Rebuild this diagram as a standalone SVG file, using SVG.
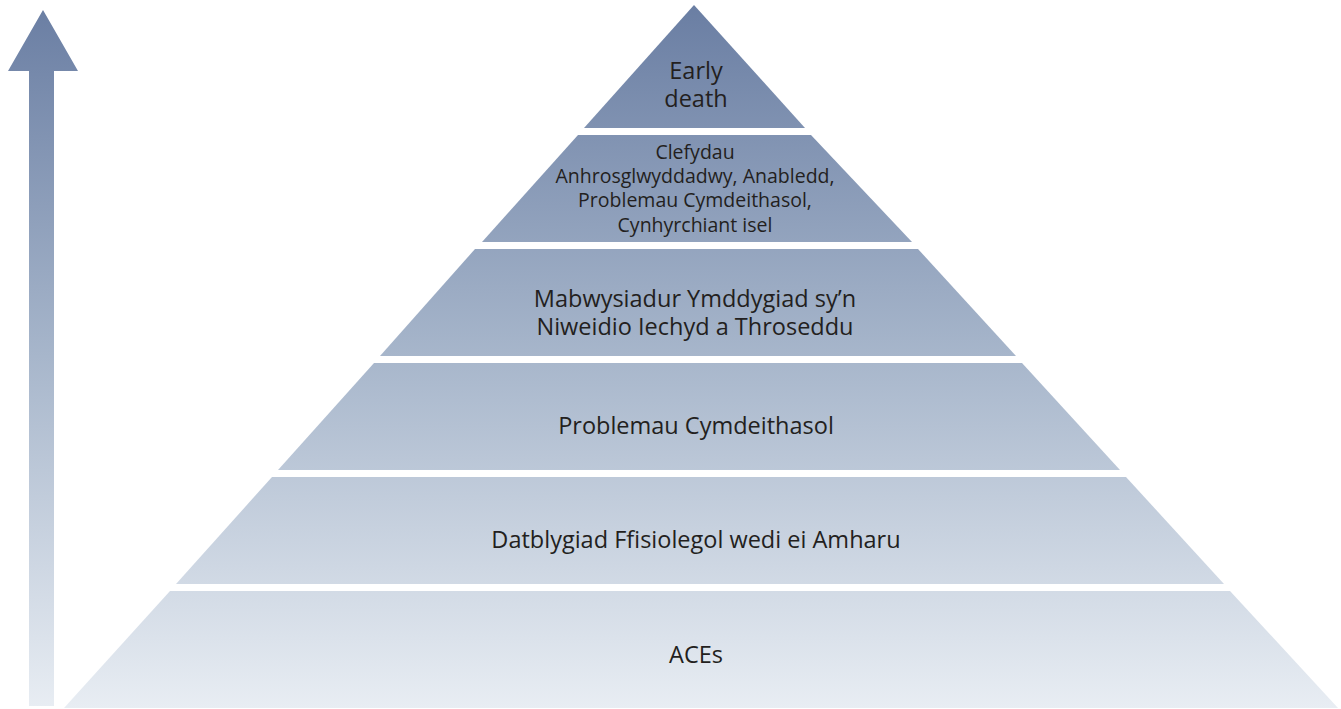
<svg xmlns="http://www.w3.org/2000/svg" width="1341" height="709" viewBox="0 0 1341 709">
<style>
.t{font-family:"Open Sans","Noto Sans",sans-serif;font-size:23.5px;fill:#231f20;text-anchor:middle;font-weight:400}
.s{font-size:19.5px}
</style>
<defs>
<linearGradient id="g" gradientUnits="userSpaceOnUse" x1="0" y1="5" x2="0" y2="708">
<stop offset="0" stop-color="#6a7ea3"/>
<stop offset="0.5" stop-color="#a7b6cb"/>
<stop offset="1" stop-color="#e8edf3"/>
</linearGradient>
</defs>
<g id="arrow"><polygon points="43,10 78,71 54,71 54,706 29,706 29,71 8,71" fill="url(#g)"/></g>
<g id="layer1"><polygon points="694,5 805,128 584,128" fill="url(#g)"/>
<text class="t"><tspan x="696" y="79">Early</tspan><tspan x="696" y="107">death</tspan></text></g>
<g id="layer2"><polygon points="578,135 811,135 912,242 482,242" fill="url(#g)"/>
<text class="t s"><tspan x="695" y="159">Clefydau</tspan><tspan x="695" y="183">Anhrosglwyddadwy, Anabledd,</tspan><tspan x="695" y="207">Problemau Cymdeithasol,</tspan><tspan x="695" y="232">Cynhyrchiant isel</tspan></text></g>
<g id="layer3"><polygon points="475,249 918,249 1016,356 380,356" fill="url(#g)"/>
<text class="t"><tspan x="695" y="307">Mabwysiadur Ymddygiad sy’n</tspan><tspan x="695" y="335">Niweidio Iechyd a Throseddu</tspan></text></g>
<g id="layer4"><polygon points="374,363 1022,363 1120,470 278,470" fill="url(#g)"/>
<text class="t" x="696" y="434">Problemau Cymdeithasol</text></g>
<g id="layer5"><polygon points="272,477 1126,477 1224,584 176,584" fill="url(#g)"/>
<text class="t" x="696" y="548">Datblygiad Ffisiolegol wedi ei Amharu</text></g>
<g id="layer6"><polygon points="170,591 1230,591 1338,708 64,708" fill="url(#g)"/>
<text class="t" x="696" y="663">ACEs</text></g>
<g id="connectors"/>
</svg>
